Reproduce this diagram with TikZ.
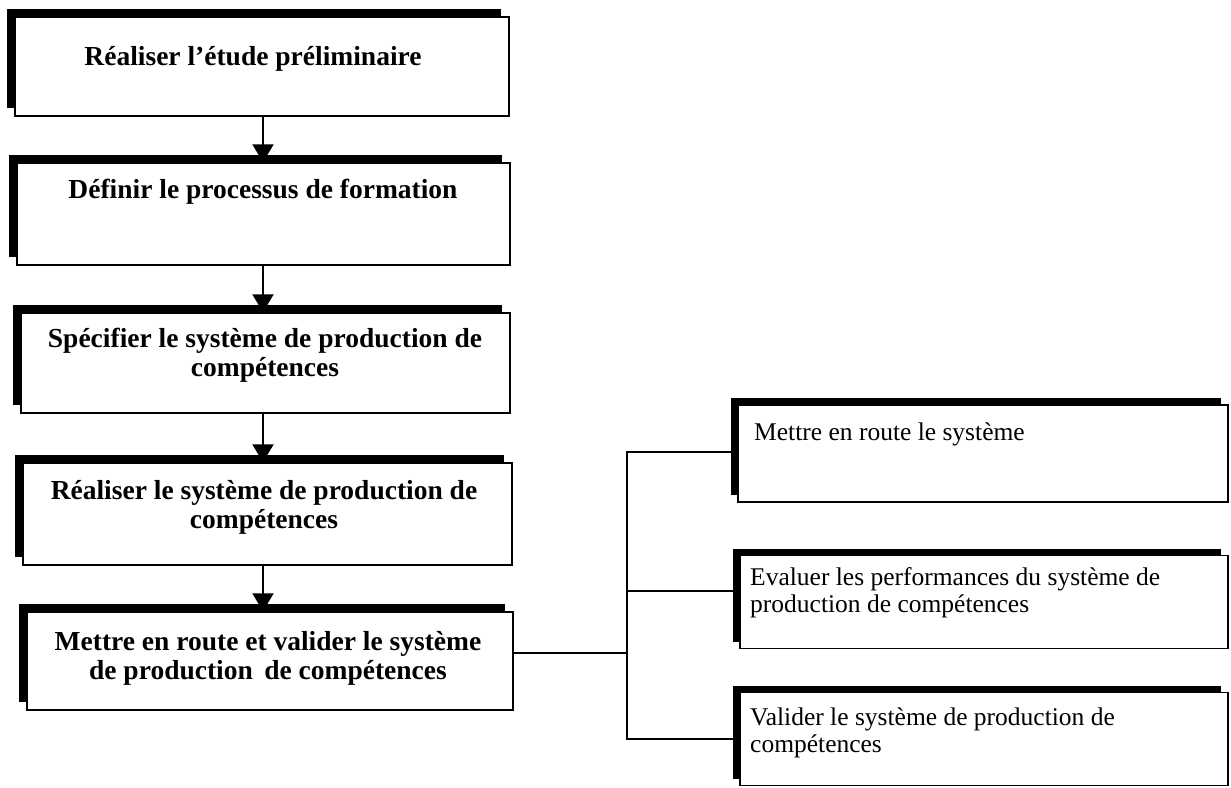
\documentclass[tikz,border=0pt]{standalone}
\usepackage{fontspec}
\setmainfont{Liberation Serif}
\usetikzlibrary{shadows,arrows.meta}
\tikzset{
  boxL/.style={draw=black, line width=1.5pt, fill=white, inner sep=0pt,
    drop shadow={shadow xshift=-8pt, shadow yshift=8pt, opacity=1, fill=black}},
  boxR/.style={draw=black, line width=1.5pt, fill=white, inner sep=0pt,
    drop shadow={shadow xshift=-7pt, shadow yshift=7pt, opacity=1, fill=black}},
  tL/.style={font=\bfseries\fontsize{27.5}{28.5}\selectfont, align=center, inner sep=0pt, anchor=base},
  tR/.style={font=\fontsize{25.5}{27}\selectfont, align=left, inner sep=0pt, anchor=base west},
  arr/.style={line width=2pt, -{Triangle[width=21pt,length=18pt]}},
  conn/.style={line width=1.8pt}
}
\begin{document}
\begin{tikzpicture}[x=1pt,y=-1pt]
\useasboundingbox (0,0) rectangle (1231,787);
\fill[white] (0,0) rectangle (1231,787);
% left column boxes
\node[boxL, minimum width=494pt, minimum height=99pt] (b1) at (262,66.5) {};
\node[boxL, minimum width=493pt, minimum height=102pt] (b2) at (263.5,214) {};
\node[boxL, minimum width=489pt, minimum height=100pt] (b3) at (265.5,363) {};
\node[boxL, minimum width=489pt, minimum height=102pt] (b4) at (267.5,514) {};
\node[boxL, minimum width=486pt, minimum height=98pt] (b5) at (270,661) {};
% right column boxes
\node[boxR, minimum width=490pt, minimum height=97pt] (r1) at (983,453.5) {};
\node[boxR, minimum width=488pt, minimum height=93pt] (r2) at (984,602) {};
\node[boxR, minimum width=488pt, minimum height=93pt] (r3) at (984,739) {};
% texts (base anchor = baseline of the last line)
\node[tL] (t1) at (253,65) {Réaliser l’étude préliminaire};
\node[tL] (t2) at (263,198) {Définir le processus de formation};
\node[tL] (t3) at (265,376) {Spécifier le système de production de\\compétences};
\node[tL] (t4) at (264,528) {Réaliser le système de production de\\compétences};
\node[tL] (t5) at (268,679) {Mettre en route et valider le système\\de production\, de compétences};
\node[tR] (u1) at (754,440) {Mettre en route le système};
\node[tR] (u2) at (750,612) {Evaluer les performances du système de\\production de compétences};
\node[tR] (u3) at (750,752) {Valider le système de production de\\compétences};
% arrows
\coordinate (ax) at (263,0);
\draw[arr] (b1.south -| ax) -- (b2.north -| ax);
\draw[arr] (b2.south -| ax) -- (b3.north -| ax);
\draw[arr] (b3.south -| ax) -- (b4.north -| ax);
\draw[arr] (b4.south -| ax) -- (b5.north -| ax);
% bus
\coordinate (j1) at (627,452);
\coordinate (j2) at (627,591);
\coordinate (j3) at (627,739);
\coordinate (j5) at (627,653);
\draw[conn] (j1 -| r1.west) -- (j1) -- (j3) -- (j3 -| r3.west);
\draw[conn] (j2) -- (j2 -| r2.west);
\draw[conn] (j5 -| b5.east) -- (j5);
\end{tikzpicture}
\end{document}
